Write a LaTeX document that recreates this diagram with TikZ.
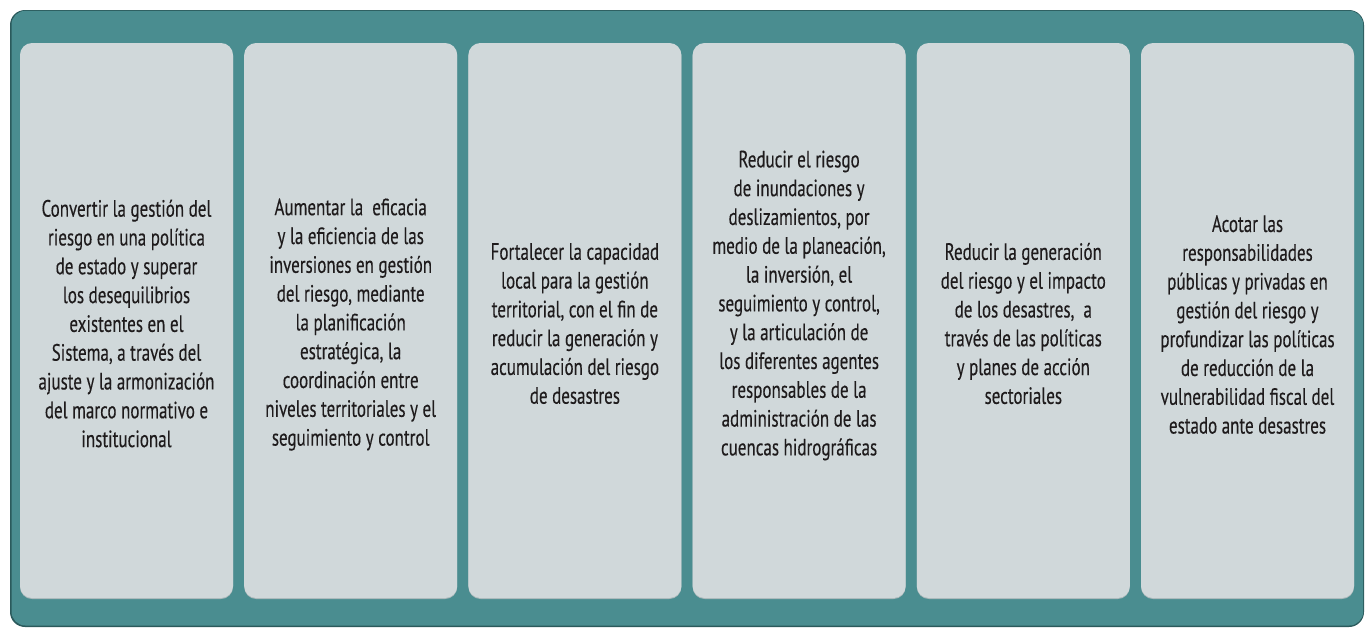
\documentclass[tikz,border=0pt]{standalone}
\usepackage{fontspec}
\setmainfont[FakeStretch=0.72, FakeBold=0.25]{PT Sans}
\definecolor{tealbg}{HTML}{4A8D90}
\definecolor{tealdark}{HTML}{2B5A5C}
\definecolor{boxfill}{HTML}{D0D8DA}
\definecolor{boxedge}{HTML}{A9B7B9}
\definecolor{txt}{HTML}{1E1B1C}
\tikzset{
  panel/.style={fill=boxfill, draw=none, rounded corners=12pt, minimum width=213pt, minimum height=555pt, inner sep=0pt},
  panelshadow/.style={fill=boxedge, draw=none, rounded corners=12pt, minimum width=213pt, minimum height=555pt, inner sep=0pt},
  paneltext/.style={align=center, text=txt, inner sep=0pt, font=\fontsize{23.6}{28.8}\selectfont}
}
\begin{document}
\begin{tikzpicture}[x=1pt,y=-1pt]
\useasboundingbox (0,0) rectangle (1368,627);
\fill[tealdark, rounded corners=15pt] (10,10) rectangle (1364,627);
\fill[tealbg, rounded corners=14pt] (11.5,10.8) rectangle (1363.2,625.5);
\foreach \i/\cx in {1/126.5, 2/350.7, 3/574.9, 4/799.1, 5/1023.3, 6/1247.5} {
  \node[panelshadow] (s\i) at (\cx,321.5) {};
  \node[panel] (b\i) at (\cx,320.5) {};
}
\node[paneltext] (t1) at ([yshift=-3pt]b1.center) {Convertir la gestión del\\riesgo en una política\\de estado y superar\\los desequilibrios\\existentes en el\\Sistema, a través del\\ajuste y la armonización\\del marco normativo e\\institucional};
\node[paneltext] (t2) at ([yshift=-4pt]b2.center) {Aumentar la\ \ eficacia\\y la eficiencia de las\\inversiones en gestión\\del riesgo, mediante\\la planificación\\estratégica, la\\coordinación entre\\niveles territoriales y el\\seguimiento y control};
\node[paneltext] (t3) at ([yshift=-3pt]b3.center) {Fortalecer la capacidad\\local para la gestión\\territorial, con el fin de\\reducir la generación y\\acumulación del riesgo\\de desastres};
\node[paneltext] (t4) at ([yshift=15pt]b4.center) {Reducir el riesgo\\de inundaciones y\\deslizamientos, por\\medio de la planeación,\\la inversión, el\\seguimiento y control,\\y la articulación de\\los diferentes agentes\\responsables de la\\administración de las\\cuencas hidrográficas};
\node[paneltext] (t5) at ([yshift=-3pt]b5.center) {Reducir la generación\\del riesgo y el impacto\\de los desastres,\ \ a\\través de las políticas\\y planes de acción\\sectoriales};
\node[paneltext] (t6) at ([yshift=-4pt]b6.center) {Acotar las\\responsabilidades\\públicas y privadas en\\gestión del riesgo y\\profundizar las políticas\\de reducción de la\\vulnerabilidad fiscal del\\estado ante desastres};
\end{tikzpicture}
\end{document}
